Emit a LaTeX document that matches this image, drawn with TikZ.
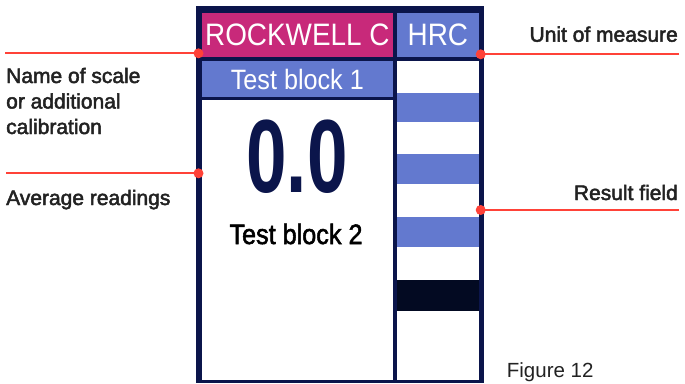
\documentclass[tikz,border=0pt]{standalone}
\usepackage{fontspec}
\setmainfont{Liberation Sans}
\newfontfamily\lblfont[FakeBold=2.3]{Liberation Sans}
\newfontfamily\medfont[FakeBold=2]{Liberation Sans}
\definecolor{navy}{HTML}{0B154B}
\definecolor{mag}{HTML}{C8297A}
\definecolor{blu}{HTML}{6379CF}
\definecolor{blk}{HTML}{030A22}
\definecolor{redl}{HTML}{FF4238}
\definecolor{lbl}{HTML}{222222}
\begin{document}
\begin{tikzpicture}[x=1pt,y=-1pt,
  panel/.style={inner sep=0pt, outer sep=0pt, draw=none},
  lbltext/.style={inner sep=0pt, text=lbl, font=\lblfont\fontsize{21}{25.5}\selectfont, align=left},
  dot/.style={circle, fill=redl, inner sep=0pt, minimum size=10pt},
  redline/.style={draw=redl, line width=2pt}]
\useasboundingbox (0,0) rectangle (685,383);
\fill[white] (0,0) rectangle (685,383);
% frame
\fill[navy] (196,6) rectangle (484,383);
% panels
\node[panel, fill=mag, minimum width=190.7pt, minimum height=43.7pt, text=white] (hdr) at (297.35,35.15)
  {\scalebox{0.9}[1]{\fontsize{31}{31}\selectfont ROCKWELL C}};
\node[panel, fill=blu, minimum width=81.2pt, minimum height=43.7pt, text=white] (hrc) at (437.9,35.15)
  {\scalebox{0.9}[1]{\fontsize{31}{31}\selectfont HRC}};
\node[panel, fill=blu, minimum width=190.7pt, minimum height=36.3pt, text=white] (tb1) at (297.35,79.15)
  {\scalebox{0.9}[1]{\fontsize{28}{28}\selectfont Test block 1}};
\node[panel, fill=white, minimum width=190.7pt, minimum height=280pt] (main) at (297.35,240) {};
\node[panel, fill=white, minimum width=81.2pt, minimum height=319pt] (col) at (437.9,220.5) {};
% result bands
\fill[blu] (397.3,93) rectangle (478.5,122);
\fill[blu] (397.3,154) rectangle (478.5,184);
\fill[blu] (397.3,217) rectangle (478.5,247);
\fill[blk] (397.3,280) rectangle (478.5,311);
% readings
\node[inner sep=0pt, anchor=base, text=navy] (val) at (297,192.7)
  {\scalebox{0.7}[1]{\fontsize{104}{104}\selectfont\bfseries 0.0}};
\node[inner sep=0pt, anchor=base, text=black] (tb2) at (296,244)
  {\scalebox{0.9}[1]{\medfont\fontsize{28}{28}\selectfont Test block 2}};
% labels
\node[lbltext, anchor=base west] (lname) at (6,134) {Name of scale\\or additional\\calibration};
\node[lbltext, anchor=base west] (lavg) at (6,205) {Average readings};
\node[lbltext, anchor=base east] (lunit) at (678,41.7) {Unit of measure};
\node[lbltext, anchor=base east] (lres) at (678,200) {Result field};
\node[inner sep=0pt, anchor=base west, text=lbl, font=\fontsize{20.5}{20.5}\selectfont] (fig) at (506.7,377.7) {Figure 12};
% connectors
\coordinate (s1) at (5,53.3);
\coordinate (s2) at (6,173.3);
\coordinate (s3) at (679,54.3);
\coordinate (s4) at (679,210);
\node[dot] (d1) at (198.5,53.3) {};
\node[dot] (d2) at (198.5,173.3) {};
\node[dot] (d3) at (480.7,54.3) {};
\node[dot] (d4) at (480.7,210) {};
\draw[redline] (s1) -- (d1.center);
\draw[redline] (s2) -- (d2.center);
\draw[redline] (s3) -- (d3.center);
\draw[redline] (s4) -- (d4.center);
\end{tikzpicture}
\end{document}
